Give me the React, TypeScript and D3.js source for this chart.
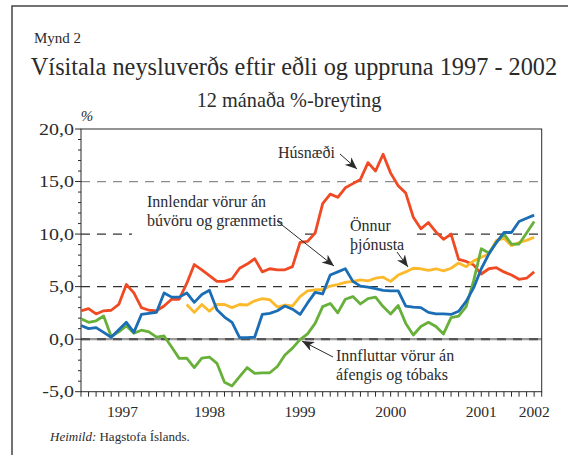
import * as d3 from 'd3'
import React, {useEffect, useRef} from 'react'

// 12 month % change, monthly from Feb 1997 to Feb 2002
const months = d3.timeMonth.range(new Date(1997, 1, 1), new Date(2002, 2, 1))
const yTicks = [-5, 0, 5, 10, 15, 20]

const husnaedi = [2.7, 2.9, 2.4, 2.7, 2.75, 3.3, 5.2, 4.4, 3.0, 2.75, 2.7, 3.15, 3.8, 3.8, 5.3, 7.1,
    6.6, 6.05, 5.5, 5.5, 5.75, 6.75, 7.15, 7.65, 6.4, 6.7, 6.6, 6.6, 6.9, 9.2, 9.3, 10.1, 12.9, 13.8,
    13.5, 14.4, 14.8, 15.2, 16.8, 16.0, 17.6, 15.8, 14.6, 13.9, 11.6, 10.5, 11.1, 10.2, 9.5, 10.0,
    7.6, 7.4, 7.05, 6.2, 6.7, 6.8, 6.4, 6.1, 5.7, 5.8, 6.4]
const innlendar = [1.3, 1.0, 1.1, 0.65, 0.18, 0.9, 1.6, 0.65, 2.35, 2.45, 2.55, 4.4, 4.0, 4.0, 4.4,
    3.5, 4.25, 4.65, 2.8, 2.1, 1.6, 0.15, 0.15, 0.2, 2.35, 2.45, 2.7, 3.15, 2.85, 2.35, 3.45, 4.45,
    4.3, 6.1, 6.4, 6.7, 5.5, 5.05, 4.95, 4.8, 4.65, 4.6, 4.6, 3.15, 3.05, 3.0, 2.55, 2.4, 2.4, 2.35,
    2.65, 3.6, 4.9, 6.7, 8.1, 9.2, 10.15, 10.15, 11.2, 11.5, 11.8]
const onnur = [null, null, null, null, null, null, null, null, null, null, null, null, null, null,
    3.3, 2.55, 3.3, 2.65, 3.3, 3.3, 3.0, 3.3, 3.25, 3.65, 3.85, 3.75, 3.05, 3.25, 3.15, 4.05, 4.6,
    4.7, 4.7, 5.05, 5.2, 5.4, 5.5, 5.65, 5.55, 5.8, 5.9, 5.5, 6.1, 6.4, 6.75, 6.7, 6.55, 6.7, 6.5,
    6.75, 7.25, 6.9, 7.45, 7.8, 8.1, 9.4, 9.6, 8.9, 9.2, 9.4, 9.7]
const innfluttar = [1.95, 1.6, 1.75, 2.2, 0.25, 0.7, 1.27, 0.56, 0.85, 0.7, 0.2, 0.3, -0.75, -1.83,
    -1.8, -2.7, -1.8, -1.7, -2.3, -4.1, -4.45, -3.57, -2.7, -3.25, -3.2, -3.2, -2.6, -1.5, -0.85,
    -0.05, 0.5, 1.5, 3.1, 3.4, 2.5, 3.8, 4.05, 3.35, 3.85, 4.0, 3.1, 2.4, 3.2, 1.5, 0.4, 1.2, 1.6,
    1.2, 0.5, 2.05, 2.2, 3.1, 5.6, 8.6, 8.2, 9.2, 10.0, 9.05, 9.05, 10.1, 11.2]

const serif = '"Liberation Serif", "Times New Roman", serif'
const ink = '#2b2b2b'

function App() {
    const ref = useRef<SVGSVGElement>(null)

    useEffect(() => {
        const svg = d3.select(ref.current)
        svg.selectAll('*').remove()

        const left = 81, right = 541.7, top = 129, bottom = 391.7
        const x = d3.scaleLinear().domain([0, months.length]).range([left, right])
        const y = d3.scaleLinear().domain([-5, 20]).range([bottom, top])

        const defs = svg.append('defs')
        defs.append('marker')
            .attr('id', 'arr')
            .attr('markerUnits', 'userSpaceOnUse')
            .attr('markerWidth', 14).attr('markerHeight', 10)
            .attr('refX', 12).attr('refY', 5)
            .attr('orient', 'auto')
            .append('path')
            .attr('d', 'M0,0 L12,5 L0,10 L3.5,5 Z')
            .attr('fill', ink)

        // outer frame (only left and top are inside the picture)
        svg.append('path')
            .attr('d', 'M12,470 V6 H580')
            .attr('fill', 'none').attr('stroke', '#444').attr('stroke-width', 1.5)

        const head = svg.append('g').attr('font-family', serif).attr('fill', ink)
        head.append('text').attr('x', 34).attr('y', 43).attr('font-size', 15).text('Mynd 2')
        head.append('text').attr('x', 294).attr('y', 75).attr('font-size', 24.3)
            .attr('text-anchor', 'middle').text('Vísitala neysluverðs eftir eðli og uppruna 1997 - 2002')
        head.append('text').attr('x', 289).attr('y', 107).attr('font-size', 20.3)
            .attr('text-anchor', 'middle').text('12 mánaða %-breyting')
        head.append('text').attr('x', 87).attr('y', 121).attr('font-size', 15)
            .attr('font-style', 'italic').attr('text-anchor', 'middle').text('%')

        const foot = head.append('text').attr('x', 50).attr('y', 441).attr('font-size', 13)
        foot.append('tspan').attr('font-style', 'italic').text('Heimild:')
        foot.append('tspan').text(' Hagstofa Íslands.')

        // dashed reference lines
        const grid = svg.append('g')
        grid.selectAll('line')
            .data([5, 10, 15])
            .join('line')
            .attr('x1', left).attr('x2', right)
            .attr('y1', d => y(d)).attr('y2', d => y(d))
            .attr('stroke', d => d === 15 ? '#8c8c8c' : '#333')
            .attr('stroke-width', 1.3)
            .attr('stroke-dasharray', '9,7')
        grid.append('line')
            .attr('x1', left).attr('x2', right).attr('y1', y(0)).attr('y2', y(0))
            .attr('stroke', '#9a9a9a').attr('stroke-width', 2.2)
        grid.append('line')
            .attr('x1', left).attr('x2', right).attr('y1', y(0)).attr('y2', y(0))
            .attr('stroke', '#555').attr('stroke-width', 2.2).attr('stroke-dasharray', '9,7')

        // text boxes hide the grid behind the labels
        grid.append('rect').attr('x', 132).attr('y', 188).attr('width', 168).attr('height', 50).attr('fill', 'white')
        grid.append('rect').attr('x', 316).attr('y', 212).attr('width', 100).attr('height', 46).attr('fill', 'white')

        // axes
        const axes = svg.append('g').attr('stroke', ink)
        axes.append('rect')
            .attr('x', left).attr('y', top).attr('width', right - left).attr('height', bottom - top)
            .attr('fill', 'none').attr('stroke-width', 1)
        axes.selectAll('.ytick')
            .data(d3.range(-5, 21))
            .join('line')
            .attr('x1', d => d % 5 === 0 ? left - 6 : left - 3).attr('x2', left)
            .attr('y1', d => y(d)).attr('y2', d => y(d))
        axes.selectAll('.xtick')
            .data(d3.range(0, months.length + 1))
            .join('line')
            .attr('x1', d => x(d)).attr('x2', d => x(d))
            .attr('y1', bottom).attr('y2', bottom + 5)

        // y labels are drawn a little wider than the rest, as in the original
        svg.append('g')
            .attr('font-family', serif).attr('font-size', 16).attr('fill', ink)
            .attr('text-anchor', 'end')
            .selectAll('text')
            .data(yTicks)
            .join('text')
            .attr('transform', d => `translate(74,${y(d) + 5.5}) scale(1.25,1)`)
            .text(d => d3.format('.1f')(d).replace('.', ',').replace('−', '-'))

        // year labels centred on the months of each year
        const years = d3.groups(months.map((m, i) => ({yr: m.getFullYear(), i})), d => d.yr)
        svg.append('g')
            .attr('font-family', serif).attr('font-size', 15.5).attr('fill', ink)
            .attr('text-anchor', 'middle')
            .selectAll('text')
            .data(years)
            .join('text')
            .attr('x', d => x(d3.mean(d[1], e => e.i + 0.5) as number))
            .attr('y', 417)
            .text(d => d[0])

        const line = d3.line<number | null>()
            .defined(d => d !== null)
            .x((d, i) => x(i))
            .y(d => y(d as number))

        const series = [
            {values: husnaedi, color: '#ef4a23'},
            {values: onnur, color: '#fdb92c'},
            {values: innfluttar, color: '#67b03a'},
            {values: innlendar, color: '#1b6db5'},
        ]
        svg.append('g')
            .selectAll('path')
            .data(series)
            .join('path')
            .attr('d', d => line(d.values))
            .attr('fill', 'none')
            .attr('stroke', d => d.color)
            .attr('stroke-width', 2.8)
            .attr('stroke-linejoin', 'round')

        // labels and leader arrows
        const lab = svg.append('g').attr('font-family', serif).attr('font-size', 16).attr('fill', ink)
        const texts = [
            ['Húsnæði', 278, 158],
            ['Innlendar vörur án', 147, 207],
            ['búvöru og grænmetis', 147, 226],
            ['Önnur', 350, 231],
            ['þjónusta', 350, 250],
            ['Innfluttar vörur án', 336, 361],
            ['áfengis og tóbaks', 336, 380],
        ]
        lab.selectAll('text')
            .data(texts)
            .join('text')
            .attr('x', d => d[1]).attr('y', d => d[2])
            .text(d => d[0])

        const arrows = [
            [340, 154, 357, 169],
            [277, 221, 334, 266],
            [397, 252, 408, 267],
            [333, 357, 302, 341],
        ]
        svg.append('g')
            .selectAll('line')
            .data(arrows)
            .join('line')
            .attr('x1', d => d[0]).attr('y1', d => d[1])
            .attr('x2', d => d[2]).attr('y2', d => d[3])
            .attr('stroke', ink).attr('stroke-width', 1)
            .attr('marker-end', 'url(#arr)')
    }, [])

    return (
        <svg ref={ref} width={568} height={455}
             style={{position: 'absolute', left: 0, top: 0, background: 'white'}}/>
    )
}

export default App
